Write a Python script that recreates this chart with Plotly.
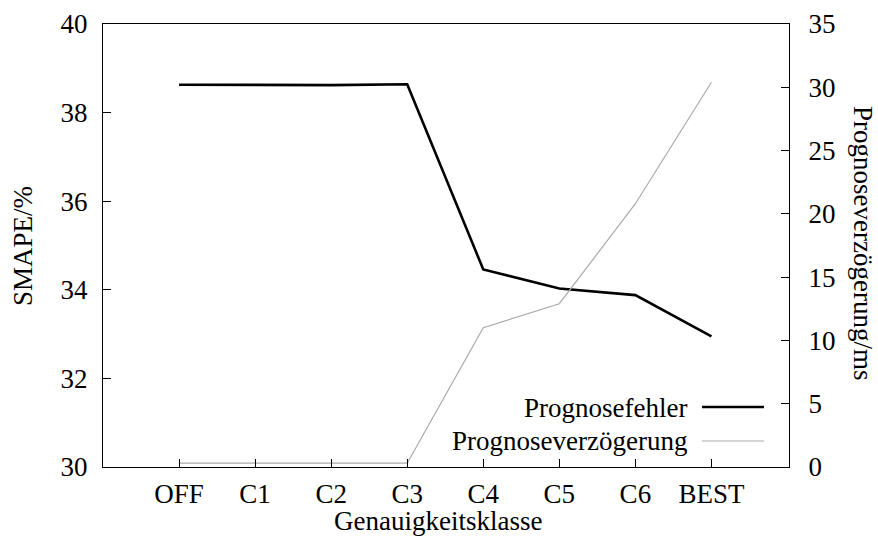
import plotly.graph_objects as go

categories = ["OFF", "C1", "C2", "C3", "C4", "C5", "C6", "BEST"]
smape = [38.63, 38.62, 38.62, 38.64, 34.46, 34.03, 33.88, 32.95]
delay_ms = [0.3, 0.3, 0.3, 0.3, 11.0, 12.9, 20.8, 30.4]

FONT = "Liberation Serif"
FS = 27
W, H = 878, 539
L, R, T, B = 103, 89, 24, 72
PW, PH = W - L - R, H - T - B


def px(xp):
    return (xp - L) / PW


def py(yp):
    return (H - B - yp) / PH


fig = go.Figure()
fig.add_trace(go.Scatter(x=categories, y=smape, mode="lines", name="Prognosefehler",
                         line=dict(color="black", width=2.6), yaxis="y"))
fig.add_trace(go.Scatter(x=categories, y=delay_ms, mode="lines", name="Prognoseverzögerung",
                         line=dict(color="#aaaaaa", width=1.2), yaxis="y2"))

axis_common = dict(showgrid=False, zeroline=False, showline=True, linecolor="black",
                   linewidth=1.2, ticks="inside", ticklen=8, tickcolor="black",
                   automargin=False,
                   tickfont=dict(family=FONT, size=FS, color="black"))

fig.update_layout(
    width=W, height=H,
    margin=dict(l=L, r=R, t=T, b=B, autoexpand=False),
    paper_bgcolor="white", plot_bgcolor="white",
    showlegend=False,
    font=dict(family=FONT, size=FS, color="black"),
    xaxis=dict(type="category", categoryorder="array", categoryarray=categories,
               range=[-1, 8.02], mirror=True, ticklabelstandoff=2, **axis_common),
    yaxis=dict(range=[30, 40], dtick=2, tick0=30, ticklabelstandoff=9, **axis_common),
    yaxis2=dict(range=[0, 35], dtick=5, tick0=0, overlaying="y", side="right",
                ticklabelstandoff=13, **axis_common),
)

# axis titles
fig.add_annotation(xref="paper", yref="paper", x=px(438), y=py(521), text="Genauigkeitsklasse",
                   showarrow=False, xanchor="center", yanchor="middle",
                   font=dict(family=FONT, size=FS, color="black"))
fig.add_annotation(xref="paper", yref="paper", x=px(23), y=py(246), text="SMAPE/%",
                   showarrow=False, xanchor="center", yanchor="middle", textangle=-90,
                   font=dict(family=FONT, size=FS, color="black"))
fig.add_annotation(xref="paper", yref="paper", x=px(863), y=py(243), text="Prognoseverzögerung/ms",
                   showarrow=False, xanchor="center", yanchor="middle", textangle=90,
                   font=dict(family=FONT, size=FS, color="black"))

# legend drawn manually (text right-aligned, sample line on the right)
legend_items = [("Prognosefehler", "black", 2.6, 408, 407), ("Prognoseverzögerung", "#aaaaaa", 1.2, 441, 441)]
for text, color, w, ytext, yline in legend_items:
    fig.add_annotation(xref="paper", yref="paper", x=px(689), y=py(ytext), xanchor="right",
                       yanchor="middle", text=text, showarrow=False,
                       font=dict(family=FONT, size=FS, color="black"))
    fig.add_shape(type="line", xref="paper", yref="paper",
                  x0=px(702), x1=px(764), y0=py(yline), y1=py(yline),
                  line=dict(color=color, width=w))

fig.write_html("out.html")
